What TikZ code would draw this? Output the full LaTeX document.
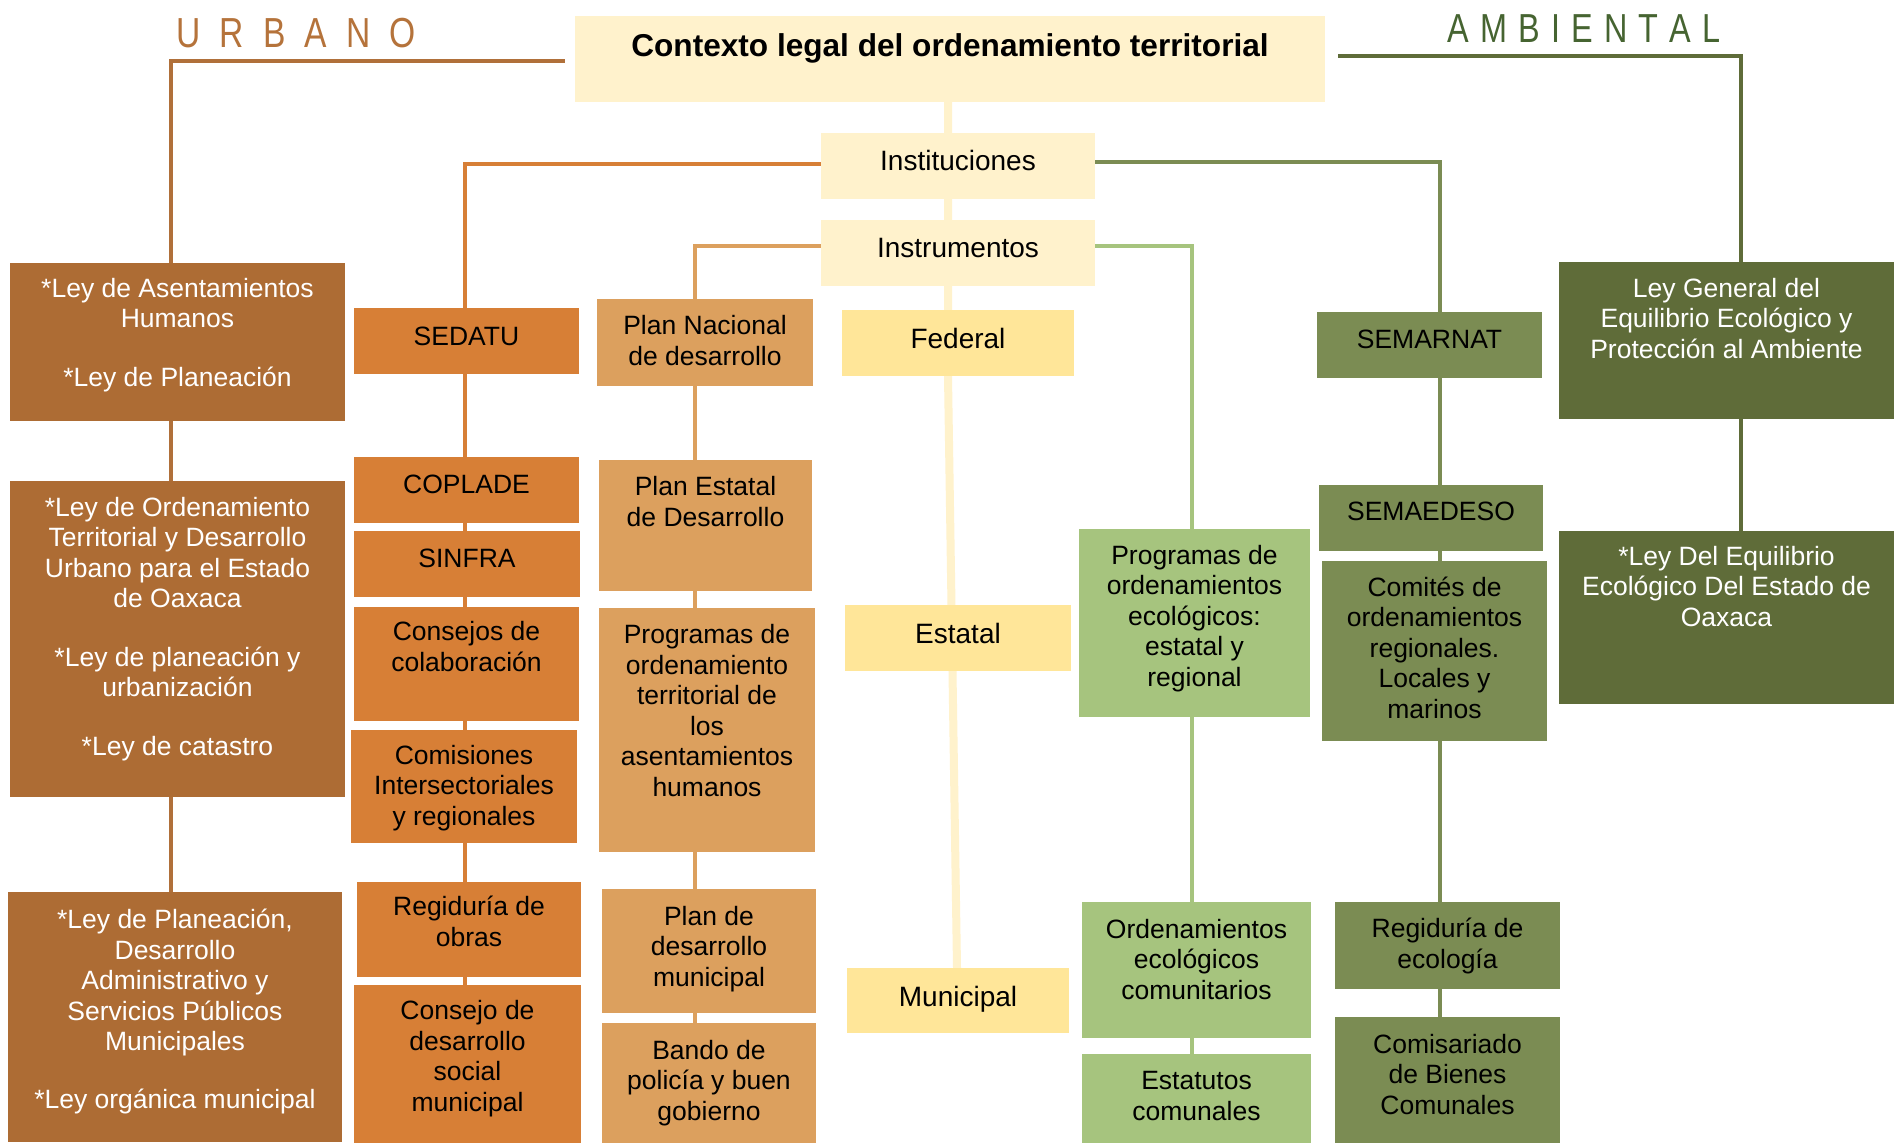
\documentclass[tikz,border=0pt]{standalone}
\usepackage{fontspec}
\setmainfont{Liberation Sans}
\usepackage{graphicx}
\usetikzlibrary{fit,backgrounds}
\definecolor{ccream}{HTML}{FFF2CC}
\definecolor{cyellow}{HTML}{FFE699}
\definecolor{cbrown}{HTML}{AD6C34}
\definecolor{corange}{HTML}{D77F36}
\definecolor{cplan}{HTML}{DCA05E}
\definecolor{clgreen}{HTML}{A6C47E}
\definecolor{cmgreen}{HTML}{7B8C53}
\definecolor{cdgreen}{HTML}{5F6C39}
\definecolor{curbtxt}{HTML}{B5733B}
\definecolor{cambtxt}{HTML}{466431}
\definecolor{curbline}{HTML}{B0703A}
% #7 = baseline of the LAST text line
\newcommand\mkbox[8]{%
  \node[fit={(#2,#3)(#4,#5)}, inner sep=0pt, draw=none, #6] (#1) {};
  \node[anchor=base, align=center, inner sep=0pt, #6, fill=none] (#1t) at ({(#2+#4)/2},#7) {#8};
}
\tikzset{
  bodyf/.style={font=\fontsize{26.5}{30.5}\selectfont},
  titleb/.style={fill=ccream, text=black, font=\bfseries\fontsize{31.6}{36}\selectfont},
  brownb/.style={fill=cbrown, text=white, bodyf},
  orangeb/.style={fill=corange, text=black, bodyf},
  planb/.style={fill=cplan, text=black, bodyf},
  creamb/.style={fill=ccream, text=black, font=\fontsize{28}{32}\selectfont},
  yellowb/.style={fill=cyellow, text=black, font=\fontsize{28}{32}\selectfont},
  lgreenb/.style={fill=clgreen, text=black, bodyf},
  mgreenb/.style={fill=cmgreen, text=black, bodyf},
  dgreenb/.style={fill=cdgreen, text=white, bodyf},
  conn/.style={line width=4pt},
}
\begin{document}
\begin{tikzpicture}[x=1pt, y=-1pt]
\useasboundingbox (0,0) rectangle (1900,1144);

% headings
\node[anchor=base west, inner sep=0pt, text=curbtxt, font=\fontsize{42}{42}\selectfont] (urbano) at (176,47)
  {\scalebox{0.8}[1]{U\kern24pt R\kern24pt B\kern24pt A\kern24pt N\kern24pt O}};
\node[anchor=base west, inner sep=0pt, text=cambtxt, font=\fontsize{40.5}{41}\selectfont] (ambiental) at (1447,42)
  {\scalebox{0.8}[1]{A\kern14pt M\kern14pt B\kern14pt I\kern14pt E\kern14pt N\kern14pt T\kern14pt A\kern14pt L}};

% central column
\mkbox{title}{575}{16}{1325}{102}{titleb}{56}{Contexto legal del ordenamiento territorial}
\mkbox{inst}{821}{133}{1095}{199}{creamb}{170}{Instituciones}
\mkbox{instr}{821}{220}{1095}{286}{creamb}{257}{Instrumentos}
\mkbox{federal}{842}{310}{1074}{376}{yellowb}{348}{Federal}
\mkbox{estatal}{845}{605}{1071}{671}{yellowb}{643}{Estatal}
\mkbox{municipal}{847}{968}{1069}{1033}{yellowb}{1006}{Municipal}

% urban laws
\mkbox{ley1}{10}{263}{345}{421}{brownb}{386}{{*}Ley de Asentamientos\\Humanos\\[28pt]{*}Ley de Planeación}
\mkbox{ley2}{10}{481}{345}{797}{brownb}{755}{{*}Ley de Ordenamiento\\Territorial y Desarrollo\\Urbano para el Estado\\de Oaxaca\\[28pt]{*}Ley de planeación y\\urbanización\\[28pt]{*}Ley de catastro}
\mkbox{ley3}{8}{892}{342}{1142}{brownb}{1108}{{*}Ley de Planeación,\\Desarrollo\\Administrativo y\\Servicios Públicos\\Municipales\\[27pt]{*}Ley orgánica municipal}

% urban institutions
\mkbox{sedatu}{354}{308}{579}{374}{orangeb}{345}{SEDATU}
\mkbox{coplade}{354}{457}{579}{523}{orangeb}{493}{COPLADE}
\mkbox{sinfra}{354}{531}{580}{597}{orangeb}{567}{SINFRA}
\mkbox{consejos}{354}{607}{579}{721}{orangeb}{671}{Consejos de\\colaboración}
\mkbox{comisiones}{351}{730}{577}{843}{orangeb}{825}{Comisiones\\Intersectoriales\\y regionales}
\mkbox{regobras}{357}{882}{581}{977}{orangeb}{946}{Regiduría de\\obras}
\mkbox{consejo}{354}{985}{581}{1143}{orangeb}{1111}{Consejo de\\desarrollo\\social\\municipal}

% urban instruments
\mkbox{plannac}{597}{299}{813}{386}{planb}{365}{Plan Nacional\\de desarrollo}
\mkbox{planest}{599}{460}{812}{591}{planb}{526}{Plan Estatal\\de Desarrollo}
\mkbox{progter}{599}{608}{815}{852}{planb}{796}{Programas de\\ordenamiento\\territorial de\\los\\asentamientos\\humanos}
\mkbox{planmun}{602}{889}{816}{1013}{planb}{986}{Plan de\\desarrollo\\municipal}
\mkbox{bando}{602}{1023}{816}{1143}{planb}{1120}{Bando de\\policía y buen\\gobierno}

% environmental instruments
\mkbox{progeco}{1079}{529}{1310}{717}{lgreenb}{686}{Programas de\\ordenamientos\\ecológicos:\\estatal y\\regional}
\mkbox{ordcom}{1082}{902}{1311}{1038}{lgreenb}{999}{Ordenamientos\\ecológicos\\comunitarios}
\mkbox{estatutos}{1082}{1054}{1311}{1143}{lgreenb}{1120}{Estatutos\\comunales}

% environmental institutions
\mkbox{semarnat}{1317}{312}{1542}{378}{mgreenb}{348}{SEMARNAT}
\mkbox{semaedeso}{1319}{485}{1543}{551}{mgreenb}{520}{SEMAEDESO}
\mkbox{comites}{1322}{561}{1547}{741}{mgreenb}{718}{Comités de\\ordenamientos\\regionales.\\Locales y\\marinos}
\mkbox{regeco}{1335}{902}{1560}{989}{mgreenb}{968}{Regiduría de\\ecología}
\mkbox{comisariado}{1335}{1017}{1560}{1143}{mgreenb}{1114}{Comisariado\\de Bienes\\Comunales}

% environmental laws
\mkbox{lgeepa}{1559}{262}{1894}{419}{dgreenb}{358}{Ley General del\\Equilibrio Ecológico y\\Protección al Ambiente}
\mkbox{leyeq}{1559}{531}{1894}{704}{dgreenb}{626}{{*}Ley Del Equilibrio\\Ecológico Del Estado de\\Oaxaca}

% column coordinates
\coordinate (ux) at (171,0);
\coordinate (ox) at (465,0);
\coordinate (px) at (695,0);
\coordinate (xa) at (948,0);
\coordinate (xc) at (957,0);
\coordinate (lgx) at (1192,0);
\coordinate (gx) at (1440,0);
\coordinate (agx) at (1741,0);

\begin{pgfonlayer}{background}
  \fill[white] (0,0) rectangle (1900,1144);
  % urban laws
  \draw[conn, curbline] ([xshift=-10pt,yshift=-2pt]title.west) -| (ley3.north -| ux);
  % environmental laws
  \draw[conn, cdgreen] ([xshift=13pt,yshift=3pt]title.east) -| (leyeq.north -| agx);
  % institutions
  \draw[conn, corange] ([yshift=2pt]inst.west) -| (consejo.north -| ox);
  \draw[conn, cmgreen] ([yshift=4pt]inst.east) -| (comisariado.north -| gx);
  % instruments
  \draw[conn, cplan] ([yshift=7pt]instr.west) -| (bando.north -| px);
  \draw[conn, clgreen] ([yshift=7pt]instr.east) -| (estatutos.north -| lgx);
  % central spine
  \draw[line width=8pt, ccream] (title.south -| xa) -- (federal.south -| xa) -- (municipal.north -| xc);
\end{pgfonlayer}
\end{tikzpicture}
\end{document}
